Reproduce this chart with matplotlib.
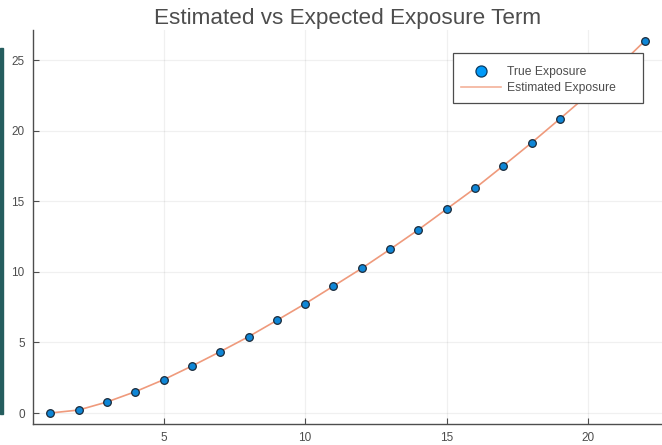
import matplotlib
matplotlib.use("Agg")
import matplotlib.pyplot as plt
from matplotlib.patches import Rectangle

plt.rcParams['font.family'] = ['Liberation Sans', 'DejaVu Sans']

time_steps = list(range(1, 23))
true_exposure = [0.0, 0.21, 0.78, 1.51, 2.36, 3.33, 4.35, 5.41, 6.57, 7.75,
                 9.0, 10.26, 11.61, 13.0, 14.47, 15.94, 17.54, 19.17, 20.87,
                 22.6, 24.45, 26.4]
estimated_exposure = [0.0, 0.21, 0.78, 1.51, 2.36, 3.33, 4.35, 5.41, 6.57, 7.75,
                      9.0, 10.26, 11.61, 13.0, 14.47, 15.94, 17.54, 19.17, 20.87,
                      22.6, 24.45, 26.4]
x_ticks = [5, 10, 15, 20]
y_ticks = [0, 5, 10, 15, 20, 25]

W, H = 662, 445
TEXT = '#4d4d4d'
fig = plt.figure(figsize=(W / 100, H / 100), dpi=100)
ax = fig.add_axes([33 / W, (H - 424) / H, (W - 33) / W, (424 - 30) / H])

ax.plot(time_steps, estimated_exposure, color='#ef9a7c', lw=1.2,
        label='Estimated Exposure', zorder=2)
ax.plot(time_steps, true_exposure, ls='none', marker='o', ms=5.5,
        mfc='#0f86d6', mec='#1a2a3a', mew=0.9, label='True Exposure', zorder=3)

ax.set_xlim(0.39, 22.6)
ax.set_ylim(-0.78, 27.16)
ax.set_xticks(x_ticks)
ax.set_yticks(y_ticks)
ax.grid(True, color='#000000', alpha=0.06, lw=0.9)
ax.set_axisbelow(True)
for s in ('top', 'right'):
    ax.spines[s].set_visible(False)
for s in ('left', 'bottom'):
    ax.spines[s].set_color(TEXT)
    ax.spines[s].set_linewidth(1.0)
ax.tick_params(direction='in', length=4, width=0.8, color=TEXT,
               labelcolor=TEXT, labelsize=8.5)
ax.tick_params(axis='x', pad=6)
ax.tick_params(axis='y', pad=6)

ax.set_title('Estimated vs Expected Exposure Term', fontsize=16.2,
             color=TEXT, pad=4)

# legend box (opaque, drawn above the data)
ax.add_patch(Rectangle((453 / W, (H - 103) / H), (643 - 453) / W, (103 - 52.7) / H,
                       transform=fig.transFigure, facecolor='white',
                       edgecolor=TEXT, lw=0.9, zorder=5))

handles, labels = ax.get_legend_handles_labels()
leg = ax.legend(handles[::-1], labels[::-1], loc='upper left',
                bbox_to_anchor=(461 / W, (H - 66.5) / H),
                bbox_transform=fig.transFigure,
                fontsize=8.7, frameon=False, markerscale=1.45,
                handlelength=3.3, labelcolor=TEXT, borderpad=0,
                borderaxespad=0, labelspacing=0.32, handletextpad=0.5)
leg.set_zorder(6)
leg.legend_handles[0].set_markerfacecolor('#009af9')
leg.legend_handles[0].set_markeredgecolor('#0a3a60')
leg.legend_handles[1].set_color('#f4b29a')

fig.patches.append(Rectangle((0, (H - 414) / H), 3 / W, (414 - 48) / H,
                             transform=fig.transFigure, color='#255d5e',
                             zorder=10))

fig.savefig('out.png', dpi=100)
